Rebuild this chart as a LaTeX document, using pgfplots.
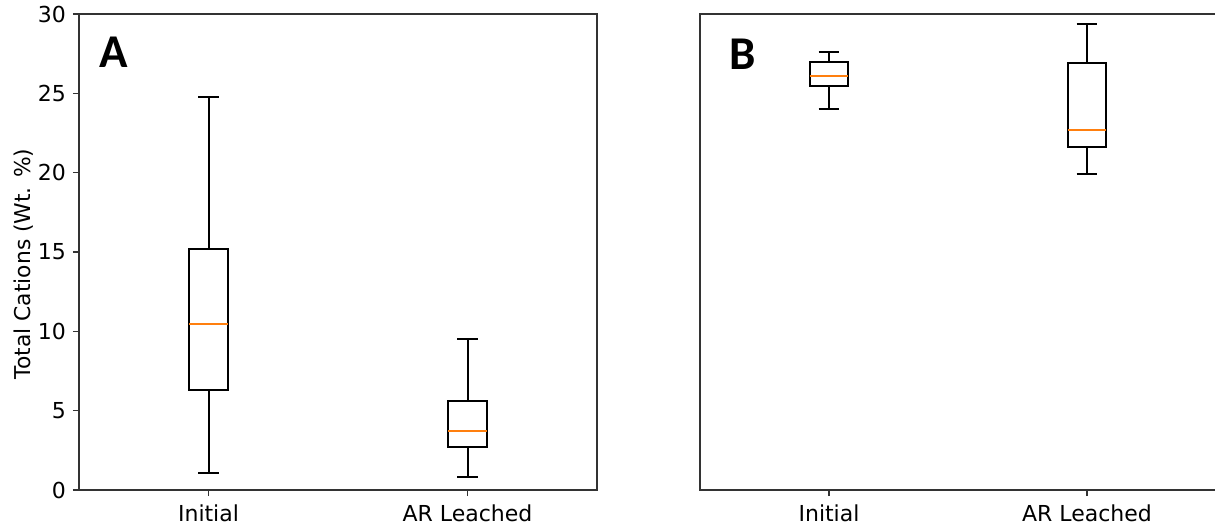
\documentclass[border=0pt]{standalone}
\usepackage{fontspec}
\setmainfont{DejaVu Sans}
\newfontfamily\labfont{Carlito}
\usepackage{pgfplots}
\pgfplotsset{compat=1.18}
\usepgfplotslibrary{statistics}
\definecolor{mplorange}{HTML}{FF7F0E}
\pgfplotsset{
  mybox/.style={
    scale only axis,
    width=259pt, height=238pt,
    xmin=0.5, xmax=2.5, ymin=0, ymax=30,
    xtick={1,2}, xticklabels={Initial,AR Leached},
    xtick pos=bottom, ytick pos=left,
    tick align=outside, major tick length=3pt,
    axis line style={black!80, line width=0.9pt},
    every tick/.style={black!80, line width=0.8pt},
    tick label style={font=\fontsize{11}{13}\selectfont},
    /pgf/number format/assume math mode=true,
    xticklabel style={yshift=-1pt},
    boxplot/draw direction=y,
    boxplot/every box/.style={draw=black, line width=1pt},
    boxplot/every whisker/.style={draw=black, line width=1pt},
    boxplot/every median/.style={draw=mplorange, line width=1pt},
    boxplot/box extend=0.15,
    boxplot/whisker extend=0.08,
  }
}
\begin{document}
\begin{tikzpicture}
\useasboundingbox (0,0) rectangle (607.5pt,263.5pt);
\begin{axis}[mybox, at={(39.5pt,18.5pt)}, anchor=south west,
  ytick={0,5,10,15,20,25,30},
  ylabel={Total Cations (Wt. \%)},
  ylabel style={font=\fontsize{10.9}{13}\selectfont, at={(axis description cs:-0.087,0.475)}, rotate=0, anchor=south, inner sep=0pt},
]
\addplot+[mark=none, draw=black, solid, boxplot prepared={draw direction=y, lower whisker=1.06, lower quartile=6.33, median=10.44, upper quartile=15.22, upper whisker=24.76, draw position=1}] coordinates {};
\addplot+[mark=none, draw=black, solid, boxplot prepared={draw direction=y, lower whisker=0.85, lower quartile=2.70, median=3.72, upper quartile=5.60, upper whisker=9.54, draw position=2}] coordinates {};
\node[anchor=base west, inner sep=0pt, font=\labfont\bfseries\fontsize{23.5}{26}\selectfont] at (rel axis cs:0.038,0.887) {A};
\end{axis}
\begin{axis}[mybox, at={(350pt,18.5pt)}, anchor=south west, width=258pt,
  ytick=\empty,
]
\addplot+[mark=none, draw=black, solid, boxplot prepared={draw direction=y, lower whisker=24.03, lower quartile=25.48, median=26.07, upper quartile=26.97, upper whisker=27.62, draw position=1}] coordinates {};
\addplot+[mark=none, draw=black, solid, boxplot prepared={draw direction=y, lower whisker=19.9, lower quartile=21.6, median=22.7, upper quartile=26.89, upper whisker=29.37, draw position=2}] coordinates {};
\node[anchor=base west, inner sep=0pt, font=\labfont\bfseries\fontsize{23.5}{26}\selectfont] at (rel axis cs:0.056,0.884) {B};
\end{axis}
\end{tikzpicture}
\end{document}
